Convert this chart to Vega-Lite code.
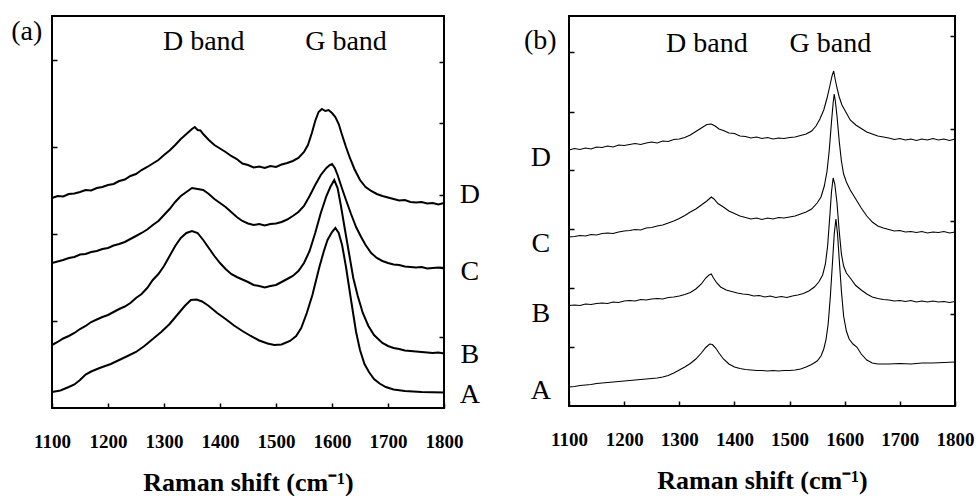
{
"$schema": "https://vega.github.io/schema/vega-lite/v6.json",
"background": "white",
"padding": {"left": 10, "top": 15, "right": 0, "bottom": 0},
"autosize": {"type": "pad"},
"spacing": 125,
"bounds": "flush",
"config": {
  "view": {"stroke": "black", "strokeWidth": 2},
  "font": "Liberation Serif",
  "axis": {"domain": false, "grid": false, "tickColor": "black", "tickWidth": 1.5, "labelColor": "black", "titleColor": "black", "labelFont": "Liberation Serif", "titleFont": "Liberation Serif"}
},
"datasets": {
"a": [
{"s":"A","x":1100,"y":16},{"s":"A","x":1115,"y":17.5},{"s":"A","x":1130,"y":21},{"s":"A","x":1140,"y":23.5},{"s":"A","x":1150,"y":28},{"s":"A","x":1160,"y":33.5},{"s":"A","x":1170,"y":36.5},{"s":"A","x":1185,"y":40},{"s":"A","x":1205,"y":44},{"s":"A","x":1220,"y":48},{"s":"A","x":1235,"y":52},{"s":"A","x":1250,"y":56},{"s":"A","x":1265,"y":62},{"s":"A","x":1280,"y":69},{"s":"A","x":1295,"y":76},{"s":"A","x":1310,"y":84},{"s":"A","x":1325,"y":94},{"s":"A","x":1337,"y":102},{"s":"A","x":1348,"y":108},{"s":"A","x":1358,"y":108.5},{"s":"A","x":1368,"y":106.5},{"s":"A","x":1380,"y":102},{"s":"A","x":1395,"y":95},{"s":"A","x":1410,"y":89},{"s":"A","x":1425,"y":82.5},{"s":"A","x":1440,"y":77},{"s":"A","x":1455,"y":72},{"s":"A","x":1470,"y":67.5},{"s":"A","x":1485,"y":64.5},{"s":"A","x":1497,"y":63},{"s":"A","x":1510,"y":63.5},{"s":"A","x":1525,"y":67},{"s":"A","x":1536,"y":72},{"s":"A","x":1545,"y":80},{"s":"A","x":1555,"y":95},{"s":"A","x":1565,"y":113},{"s":"A","x":1577,"y":140},{"s":"A","x":1585,"y":156},{"s":"A","x":1592,"y":168},{"s":"A","x":1600,"y":176},{"s":"A","x":1606,"y":180},{"s":"A","x":1612,"y":175},{"s":"A","x":1618,"y":163},{"s":"A","x":1625,"y":141},{"s":"A","x":1634,"y":108},{"s":"A","x":1643,"y":76},{"s":"A","x":1650,"y":58},{"s":"A","x":1658,"y":44},{"s":"A","x":1666,"y":36},{"s":"A","x":1675,"y":29},{"s":"A","x":1685,"y":24.5},{"s":"A","x":1696,"y":21},{"s":"A","x":1710,"y":18.5},{"s":"A","x":1730,"y":17},{"s":"A","x":1760,"y":16},{"s":"A","x":1800,"y":15.5},
{"s":"B","x":1100,"y":63},{"s":"B","x":1110,"y":66},{"s":"B","x":1120,"y":69.5},{"s":"B","x":1130,"y":72},{"s":"B","x":1140,"y":75},{"s":"B","x":1150,"y":79},{"s":"B","x":1160,"y":82},{"s":"B","x":1170,"y":86},{"s":"B","x":1180,"y":88.5},{"s":"B","x":1190,"y":91},{"s":"B","x":1200,"y":93},{"s":"B","x":1210,"y":96},{"s":"B","x":1220,"y":99},{"s":"B","x":1230,"y":101.5},{"s":"B","x":1240,"y":105},{"s":"B","x":1250,"y":110},{"s":"B","x":1260,"y":114},{"s":"B","x":1270,"y":120},{"s":"B","x":1280,"y":128},{"s":"B","x":1290,"y":134},{"s":"B","x":1300,"y":142},{"s":"B","x":1310,"y":152},{"s":"B","x":1320,"y":162},{"s":"B","x":1330,"y":170},{"s":"B","x":1340,"y":175},{"s":"B","x":1350,"y":177},{"s":"B","x":1360,"y":175},{"s":"B","x":1370,"y":168},{"s":"B","x":1380,"y":160},{"s":"B","x":1390,"y":152},{"s":"B","x":1400,"y":145},{"s":"B","x":1410,"y":139},{"s":"B","x":1420,"y":134},{"s":"B","x":1430,"y":131},{"s":"B","x":1440,"y":128.5},{"s":"B","x":1450,"y":126},{"s":"B","x":1460,"y":123},{"s":"B","x":1470,"y":122},{"s":"B","x":1480,"y":120.5},{"s":"B","x":1490,"y":122},{"s":"B","x":1500,"y":123},{"s":"B","x":1510,"y":126},{"s":"B","x":1520,"y":129},{"s":"B","x":1530,"y":132},{"s":"B","x":1540,"y":137},{"s":"B","x":1550,"y":145},{"s":"B","x":1560,"y":157},{"s":"B","x":1570,"y":175},{"s":"B","x":1580,"y":195},{"s":"B","x":1590,"y":212},{"s":"B","x":1597,"y":221},{"s":"B","x":1604,"y":228},{"s":"B","x":1610,"y":220},{"s":"B","x":1616,"y":202},{"s":"B","x":1622,"y":182},{"s":"B","x":1630,"y":156},{"s":"B","x":1638,"y":130},{"s":"B","x":1646,"y":112},{"s":"B","x":1655,"y":95},{"s":"B","x":1665,"y":82},{"s":"B","x":1675,"y":73},{"s":"B","x":1690,"y":65},{"s":"B","x":1700,"y":62},{"s":"B","x":1710,"y":60},{"s":"B","x":1720,"y":59},{"s":"B","x":1730,"y":57.5},{"s":"B","x":1740,"y":57},{"s":"B","x":1750,"y":56.5},{"s":"B","x":1760,"y":56},{"s":"B","x":1770,"y":55.5},{"s":"B","x":1780,"y":55},{"s":"B","x":1790,"y":55.5},{"s":"B","x":1800,"y":54.5},
{"s":"C","x":1100,"y":145},{"s":"C","x":1110,"y":146.5},{"s":"C","x":1120,"y":148},{"s":"C","x":1130,"y":150},{"s":"C","x":1140,"y":151},{"s":"C","x":1150,"y":153.5},{"s":"C","x":1160,"y":154},{"s":"C","x":1170,"y":156},{"s":"C","x":1180,"y":157},{"s":"C","x":1190,"y":159},{"s":"C","x":1200,"y":160},{"s":"C","x":1210,"y":162.5},{"s":"C","x":1220,"y":164},{"s":"C","x":1230,"y":166},{"s":"C","x":1240,"y":169},{"s":"C","x":1250,"y":172},{"s":"C","x":1260,"y":175},{"s":"C","x":1270,"y":178.5},{"s":"C","x":1280,"y":183},{"s":"C","x":1290,"y":187},{"s":"C","x":1300,"y":193},{"s":"C","x":1310,"y":199},{"s":"C","x":1320,"y":206},{"s":"C","x":1330,"y":212},{"s":"C","x":1340,"y":216},{"s":"C","x":1350,"y":220},{"s":"C","x":1360,"y":219},{"s":"C","x":1370,"y":218},{"s":"C","x":1380,"y":214},{"s":"C","x":1390,"y":209},{"s":"C","x":1400,"y":205},{"s":"C","x":1410,"y":201},{"s":"C","x":1420,"y":196},{"s":"C","x":1430,"y":191},{"s":"C","x":1440,"y":187},{"s":"C","x":1450,"y":184.5},{"s":"C","x":1460,"y":183},{"s":"C","x":1470,"y":184},{"s":"C","x":1480,"y":182.5},{"s":"C","x":1490,"y":184},{"s":"C","x":1500,"y":184.5},{"s":"C","x":1510,"y":186},{"s":"C","x":1520,"y":188.5},{"s":"C","x":1530,"y":192},{"s":"C","x":1540,"y":196},{"s":"C","x":1550,"y":202},{"s":"C","x":1560,"y":212},{"s":"C","x":1570,"y":223},{"s":"C","x":1580,"y":233},{"s":"C","x":1590,"y":240},{"s":"C","x":1596,"y":243},{"s":"C","x":1600,"y":244},{"s":"C","x":1605,"y":240},{"s":"C","x":1610,"y":233},{"s":"C","x":1617,"y":221},{"s":"C","x":1625,"y":208},{"s":"C","x":1634,"y":194},{"s":"C","x":1643,"y":181},{"s":"C","x":1652,"y":171},{"s":"C","x":1660,"y":163},{"s":"C","x":1670,"y":155},{"s":"C","x":1680,"y":150},{"s":"C","x":1690,"y":147},{"s":"C","x":1700,"y":145},{"s":"C","x":1710,"y":143.5},{"s":"C","x":1720,"y":143},{"s":"C","x":1730,"y":141.5},{"s":"C","x":1740,"y":141},{"s":"C","x":1750,"y":140.5},{"s":"C","x":1760,"y":141},{"s":"C","x":1770,"y":139.5},{"s":"C","x":1780,"y":140},{"s":"C","x":1790,"y":140.5},{"s":"C","x":1800,"y":139.5},
{"s":"D","x":1100,"y":210},{"s":"D","x":1110,"y":212},{"s":"D","x":1120,"y":211.5},{"s":"D","x":1130,"y":214},{"s":"D","x":1140,"y":214.5},{"s":"D","x":1150,"y":216},{"s":"D","x":1160,"y":218},{"s":"D","x":1170,"y":217.5},{"s":"D","x":1180,"y":220},{"s":"D","x":1190,"y":221},{"s":"D","x":1200,"y":223},{"s":"D","x":1210,"y":224},{"s":"D","x":1220,"y":227},{"s":"D","x":1230,"y":228.5},{"s":"D","x":1240,"y":232},{"s":"D","x":1250,"y":234},{"s":"D","x":1260,"y":238},{"s":"D","x":1270,"y":241},{"s":"D","x":1280,"y":244.5},{"s":"D","x":1290,"y":248},{"s":"D","x":1300,"y":253},{"s":"D","x":1310,"y":257.5},{"s":"D","x":1320,"y":263},{"s":"D","x":1330,"y":269},{"s":"D","x":1340,"y":274},{"s":"D","x":1350,"y":279},{"s":"D","x":1355,"y":281},{"s":"D","x":1360,"y":278},{"s":"D","x":1365,"y":277.5},{"s":"D","x":1370,"y":274},{"s":"D","x":1380,"y":268},{"s":"D","x":1390,"y":263},{"s":"D","x":1400,"y":259.5},{"s":"D","x":1410,"y":256},{"s":"D","x":1420,"y":252},{"s":"D","x":1430,"y":249},{"s":"D","x":1440,"y":244.5},{"s":"D","x":1450,"y":243},{"s":"D","x":1460,"y":240.5},{"s":"D","x":1470,"y":241.5},{"s":"D","x":1480,"y":240},{"s":"D","x":1490,"y":242},{"s":"D","x":1500,"y":241},{"s":"D","x":1510,"y":243.5},{"s":"D","x":1520,"y":245},{"s":"D","x":1530,"y":247},{"s":"D","x":1540,"y":250},{"s":"D","x":1550,"y":256},{"s":"D","x":1557,"y":263},{"s":"D","x":1564,"y":275},{"s":"D","x":1570,"y":287},{"s":"D","x":1576,"y":296},{"s":"D","x":1582,"y":299},{"s":"D","x":1588,"y":297},{"s":"D","x":1594,"y":298},{"s":"D","x":1600,"y":295},{"s":"D","x":1606,"y":291},{"s":"D","x":1612,"y":284},{"s":"D","x":1618,"y":273},{"s":"D","x":1625,"y":261},{"s":"D","x":1632,"y":250},{"s":"D","x":1640,"y":239},{"s":"D","x":1650,"y":228},{"s":"D","x":1660,"y":221},{"s":"D","x":1670,"y":217},{"s":"D","x":1680,"y":214},{"s":"D","x":1690,"y":212},{"s":"D","x":1700,"y":210.5},{"s":"D","x":1710,"y":209},{"s":"D","x":1720,"y":207.5},{"s":"D","x":1730,"y":208},{"s":"D","x":1740,"y":206},{"s":"D","x":1750,"y":205.5},{"s":"D","x":1760,"y":206},{"s":"D","x":1770,"y":204.5},{"s":"D","x":1780,"y":205},{"s":"D","x":1790,"y":203.5},{"s":"D","x":1800,"y":205}
],
"b": [
{"s":"A","x":1100,"y":19},{"s":"A","x":1110,"y":19.5},{"s":"A","x":1120,"y":20.5},{"s":"A","x":1130,"y":21},{"s":"A","x":1140,"y":21.5},{"s":"A","x":1150,"y":22.5},{"s":"A","x":1160,"y":23},{"s":"A","x":1170,"y":23.5},{"s":"A","x":1180,"y":24},{"s":"A","x":1190,"y":24.5},{"s":"A","x":1200,"y":25},{"s":"A","x":1210,"y":25.5},{"s":"A","x":1220,"y":26},{"s":"A","x":1230,"y":26.5},{"s":"A","x":1240,"y":27},{"s":"A","x":1250,"y":27.5},{"s":"A","x":1260,"y":28},{"s":"A","x":1270,"y":29},{"s":"A","x":1280,"y":30.5},{"s":"A","x":1290,"y":33},{"s":"A","x":1300,"y":36},{"s":"A","x":1310,"y":39},{"s":"A","x":1320,"y":42.5},{"s":"A","x":1330,"y":47},{"s":"A","x":1340,"y":53},{"s":"A","x":1348,"y":58.5},{"s":"A","x":1355,"y":62},{"s":"A","x":1360,"y":61.5},{"s":"A","x":1366,"y":58},{"s":"A","x":1372,"y":53},{"s":"A","x":1380,"y":47},{"s":"A","x":1390,"y":42},{"s":"A","x":1400,"y":39},{"s":"A","x":1410,"y":37.5},{"s":"A","x":1420,"y":36.5},{"s":"A","x":1430,"y":36},{"s":"A","x":1440,"y":35.5},{"s":"A","x":1450,"y":35.5},{"s":"A","x":1460,"y":35},{"s":"A","x":1470,"y":35.5},{"s":"A","x":1480,"y":35},{"s":"A","x":1490,"y":35.5},{"s":"A","x":1500,"y":35.5},{"s":"A","x":1510,"y":36},{"s":"A","x":1520,"y":37},{"s":"A","x":1530,"y":39},{"s":"A","x":1540,"y":41.5},{"s":"A","x":1550,"y":45},{"s":"A","x":1557,"y":50},{"s":"A","x":1562,"y":57},{"s":"A","x":1566,"y":66},{"s":"A","x":1570,"y":82},{"s":"A","x":1574,"y":110},{"s":"A","x":1578,"y":145},{"s":"A","x":1581,"y":172},{"s":"A","x":1584,"y":187},{"s":"A","x":1587,"y":172},{"s":"A","x":1590,"y":147},{"s":"A","x":1594,"y":115},{"s":"A","x":1598,"y":90},{"s":"A","x":1603,"y":75},{"s":"A","x":1608,"y":67},{"s":"A","x":1615,"y":62},{"s":"A","x":1622,"y":59},{"s":"A","x":1630,"y":52},{"s":"A","x":1640,"y":46},{"s":"A","x":1650,"y":43},{"s":"A","x":1660,"y":42},{"s":"A","x":1680,"y":42},{"s":"A","x":1700,"y":42.5},{"s":"A","x":1720,"y":42},{"s":"A","x":1740,"y":43},{"s":"A","x":1760,"y":43},{"s":"A","x":1780,"y":43.5},{"s":"A","x":1800,"y":44},
{"s":"B","x":1100,"y":100.5},{"s":"B","x":1110,"y":101},{"s":"B","x":1120,"y":100.5},{"s":"B","x":1130,"y":102},{"s":"B","x":1140,"y":101.5},{"s":"B","x":1150,"y":102.5},{"s":"B","x":1160,"y":103},{"s":"B","x":1170,"y":102.5},{"s":"B","x":1180,"y":104},{"s":"B","x":1190,"y":103.5},{"s":"B","x":1200,"y":105},{"s":"B","x":1210,"y":105.5},{"s":"B","x":1220,"y":105},{"s":"B","x":1230,"y":106.5},{"s":"B","x":1240,"y":106},{"s":"B","x":1250,"y":107},{"s":"B","x":1260,"y":107.5},{"s":"B","x":1270,"y":107},{"s":"B","x":1280,"y":108.5},{"s":"B","x":1290,"y":109},{"s":"B","x":1300,"y":110},{"s":"B","x":1310,"y":111.5},{"s":"B","x":1320,"y":113.5},{"s":"B","x":1330,"y":117},{"s":"B","x":1340,"y":122},{"s":"B","x":1348,"y":128},{"s":"B","x":1354,"y":131},{"s":"B","x":1358,"y":132},{"s":"B","x":1362,"y":128},{"s":"B","x":1368,"y":123},{"s":"B","x":1375,"y":119},{"s":"B","x":1385,"y":116},{"s":"B","x":1395,"y":114.5},{"s":"B","x":1405,"y":113},{"s":"B","x":1415,"y":112},{"s":"B","x":1425,"y":111.5},{"s":"B","x":1435,"y":110},{"s":"B","x":1445,"y":110.5},{"s":"B","x":1455,"y":109},{"s":"B","x":1465,"y":110},{"s":"B","x":1475,"y":108.5},{"s":"B","x":1485,"y":109.5},{"s":"B","x":1495,"y":108.5},{"s":"B","x":1505,"y":110},{"s":"B","x":1515,"y":111},{"s":"B","x":1525,"y":112.5},{"s":"B","x":1535,"y":115},{"s":"B","x":1545,"y":119},{"s":"B","x":1553,"y":124},{"s":"B","x":1560,"y":131},{"s":"B","x":1565,"y":142},{"s":"B","x":1569,"y":160},{"s":"B","x":1573,"y":190},{"s":"B","x":1576,"y":214},{"s":"B","x":1579,"y":228},{"s":"B","x":1582,"y":222},{"s":"B","x":1586,"y":203},{"s":"B","x":1590,"y":175},{"s":"B","x":1594,"y":152},{"s":"B","x":1598,"y":140},{"s":"B","x":1603,"y":133},{"s":"B","x":1610,"y":128},{"s":"B","x":1620,"y":120.5},{"s":"B","x":1630,"y":116},{"s":"B","x":1640,"y":112},{"s":"B","x":1650,"y":109},{"s":"B","x":1660,"y":107.5},{"s":"B","x":1670,"y":106.5},{"s":"B","x":1680,"y":106},{"s":"B","x":1690,"y":105},{"s":"B","x":1700,"y":105.5},{"s":"B","x":1710,"y":104.5},{"s":"B","x":1720,"y":105.5},{"s":"B","x":1730,"y":104},{"s":"B","x":1740,"y":105},{"s":"B","x":1750,"y":104},{"s":"B","x":1760,"y":105},{"s":"B","x":1770,"y":104},{"s":"B","x":1780,"y":104.5},{"s":"B","x":1790,"y":103.5},{"s":"B","x":1800,"y":104.5},
{"s":"C","x":1100,"y":169},{"s":"C","x":1110,"y":169.5},{"s":"C","x":1120,"y":170.5},{"s":"C","x":1130,"y":170},{"s":"C","x":1140,"y":171.5},{"s":"C","x":1150,"y":171},{"s":"C","x":1160,"y":172.5},{"s":"C","x":1170,"y":173},{"s":"C","x":1180,"y":172.5},{"s":"C","x":1190,"y":174},{"s":"C","x":1200,"y":175},{"s":"C","x":1210,"y":175.5},{"s":"C","x":1220,"y":176.5},{"s":"C","x":1230,"y":176},{"s":"C","x":1240,"y":178},{"s":"C","x":1250,"y":178.5},{"s":"C","x":1260,"y":180},{"s":"C","x":1270,"y":181},{"s":"C","x":1280,"y":183},{"s":"C","x":1290,"y":185},{"s":"C","x":1300,"y":187.5},{"s":"C","x":1310,"y":190.5},{"s":"C","x":1320,"y":194},{"s":"C","x":1330,"y":197},{"s":"C","x":1340,"y":201},{"s":"C","x":1350,"y":205},{"s":"C","x":1358,"y":209},{"s":"C","x":1363,"y":207},{"s":"C","x":1370,"y":202.5},{"s":"C","x":1380,"y":199},{"s":"C","x":1390,"y":195},{"s":"C","x":1400,"y":192.5},{"s":"C","x":1410,"y":190},{"s":"C","x":1420,"y":188.5},{"s":"C","x":1430,"y":187},{"s":"C","x":1440,"y":188},{"s":"C","x":1450,"y":186.5},{"s":"C","x":1460,"y":188},{"s":"C","x":1470,"y":187},{"s":"C","x":1480,"y":188.5},{"s":"C","x":1490,"y":188},{"s":"C","x":1500,"y":189},{"s":"C","x":1510,"y":190},{"s":"C","x":1520,"y":192},{"s":"C","x":1530,"y":194},{"s":"C","x":1540,"y":197},{"s":"C","x":1550,"y":203},{"s":"C","x":1557,"y":209},{"s":"C","x":1563,"y":220},{"s":"C","x":1568,"y":235},{"s":"C","x":1572,"y":256},{"s":"C","x":1576,"y":284},{"s":"C","x":1579,"y":303},{"s":"C","x":1581,"y":312},{"s":"C","x":1583,"y":305},{"s":"C","x":1586,"y":290},{"s":"C","x":1590,"y":265},{"s":"C","x":1594,"y":245},{"s":"C","x":1598,"y":232},{"s":"C","x":1603,"y":224},{"s":"C","x":1610,"y":216},{"s":"C","x":1620,"y":207},{"s":"C","x":1630,"y":198},{"s":"C","x":1640,"y":190},{"s":"C","x":1650,"y":184},{"s":"C","x":1660,"y":180},{"s":"C","x":1670,"y":178},{"s":"C","x":1680,"y":176.5},{"s":"C","x":1690,"y":175},{"s":"C","x":1700,"y":175.5},{"s":"C","x":1710,"y":174},{"s":"C","x":1720,"y":174.5},{"s":"C","x":1730,"y":173.5},{"s":"C","x":1740,"y":174.5},{"s":"C","x":1750,"y":173},{"s":"C","x":1760,"y":174},{"s":"C","x":1770,"y":173.5},{"s":"C","x":1780,"y":174.5},{"s":"C","x":1790,"y":173},{"s":"C","x":1800,"y":174},
{"s":"D","x":1100,"y":256},{"s":"D","x":1110,"y":257.5},{"s":"D","x":1120,"y":256.5},{"s":"D","x":1130,"y":258},{"s":"D","x":1140,"y":257},{"s":"D","x":1150,"y":259},{"s":"D","x":1160,"y":258.5},{"s":"D","x":1170,"y":260},{"s":"D","x":1180,"y":259},{"s":"D","x":1190,"y":261},{"s":"D","x":1200,"y":260.5},{"s":"D","x":1210,"y":261.5},{"s":"D","x":1220,"y":262.5},{"s":"D","x":1230,"y":261.5},{"s":"D","x":1240,"y":263},{"s":"D","x":1250,"y":264},{"s":"D","x":1260,"y":263},{"s":"D","x":1270,"y":265},{"s":"D","x":1280,"y":264.5},{"s":"D","x":1290,"y":266.5},{"s":"D","x":1300,"y":267},{"s":"D","x":1310,"y":268.5},{"s":"D","x":1320,"y":271},{"s":"D","x":1330,"y":274.5},{"s":"D","x":1340,"y":278},{"s":"D","x":1350,"y":281.5},{"s":"D","x":1358,"y":282},{"s":"D","x":1365,"y":280},{"s":"D","x":1372,"y":277},{"s":"D","x":1380,"y":275.5},{"s":"D","x":1390,"y":273},{"s":"D","x":1400,"y":272.5},{"s":"D","x":1410,"y":270},{"s":"D","x":1420,"y":269.5},{"s":"D","x":1430,"y":268},{"s":"D","x":1440,"y":269},{"s":"D","x":1450,"y":267.5},{"s":"D","x":1460,"y":268.5},{"s":"D","x":1470,"y":267},{"s":"D","x":1480,"y":268},{"s":"D","x":1490,"y":267.5},{"s":"D","x":1500,"y":268.5},{"s":"D","x":1510,"y":269},{"s":"D","x":1520,"y":270.5},{"s":"D","x":1530,"y":272},{"s":"D","x":1540,"y":275},{"s":"D","x":1548,"y":280},{"s":"D","x":1555,"y":287},{"s":"D","x":1562,"y":296},{"s":"D","x":1568,"y":308},{"s":"D","x":1573,"y":320},{"s":"D","x":1577,"y":330},{"s":"D","x":1580,"y":335},{"s":"D","x":1583,"y":326},{"s":"D","x":1586,"y":318},{"s":"D","x":1590,"y":309},{"s":"D","x":1595,"y":301},{"s":"D","x":1600,"y":296},{"s":"D","x":1605,"y":291},{"s":"D","x":1610,"y":286},{"s":"D","x":1620,"y":281},{"s":"D","x":1630,"y":277.5},{"s":"D","x":1640,"y":274},{"s":"D","x":1650,"y":272},{"s":"D","x":1660,"y":270},{"s":"D","x":1670,"y":269},{"s":"D","x":1680,"y":268},{"s":"D","x":1690,"y":266.5},{"s":"D","x":1700,"y":267.5},{"s":"D","x":1710,"y":266},{"s":"D","x":1720,"y":267},{"s":"D","x":1730,"y":265.5},{"s":"D","x":1740,"y":267},{"s":"D","x":1750,"y":266},{"s":"D","x":1760,"y":267.5},{"s":"D","x":1770,"y":266},{"s":"D","x":1780,"y":267},{"s":"D","x":1790,"y":265.5},{"s":"D","x":1800,"y":267}
],
"la": [
{"t":"(a)","x":1055,"y":368},{"t":"D band","x":1371,"y":358},{"t":"G band","x":1625,"y":358},
{"t":"D","x":1846,"y":205},{"t":"C","x":1846,"y":128},{"t":"B","x":1846,"y":45},{"t":"A","x":1846,"y":5}
],
"lb": [
{"t":"(b)","x":1048,"y":357},{"t":"D band","x":1350,"y":354},{"t":"G band","x":1574,"y":354},
{"t":"D","x":1049,"y":240},{"t":"C","x":1049,"y":154},{"t":"B","x":1049,"y":84},{"t":"A","x":1049,"y":7}
]
},
"hconcat": [
{
  "width": 392, "height": 392,
  "layer": [
    {
      "data": {"name": "a"},
      "mark": {"type": "line", "color": "black", "strokeWidth": 2, "interpolate": "linear"},
      "encoding": {
        "x": {"field": "x", "type": "quantitative", "scale": {"domain": [1100, 1800], "nice": false, "zero": false},
              "axis": {"values": [1100,1200,1300,1400,1500,1600,1700,1800], "format": "d", "tickSize": -5, "labelFontSize": 19, "labelFontWeight": "bold", "labelPadding": 29, "labelFlush": false, "labelOverlap": false, "title": "Raman shift (cm⁻¹)", "titleFontSize": 26, "titleFontWeight": "bold", "titlePadding": 18}},
        "y": {"field": "y", "type": "quantitative", "scale": {"domain": [0, 392], "nice": false, "zero": false},
              "axis": {"orient": "left", "values": [87,174,261,348], "labels": false, "tickSize": -5, "title": null}},
        "detail": {"field": "s", "type": "nominal"}
      }
    },
    {
      "data": {"name": "la"},
      "mark": {"type": "text", "fontSize": 28, "font": "Liberation Serif", "color": "black", "align": "center", "baseline": "alphabetic"},
      "encoding": {
        "x": {"field": "x", "type": "quantitative"},
        "y": {"field": "y", "type": "quantitative", "axis": {"orient": "right", "values": [71,141,213,285,346], "labels": false, "tickSize": -5, "title": null}},
        "text": {"field": "t", "type": "nominal"}
      }
    }
  ],
  "resolve": {"axis": {"y": "independent"}}
},
{
  "width": 386, "height": 390,
  "layer": [
    {
      "data": {"name": "b"},
      "mark": {"type": "line", "color": "black", "strokeWidth": 1.1, "interpolate": "linear"},
      "encoding": {
        "x": {"field": "x", "type": "quantitative", "scale": {"domain": [1100, 1800], "nice": false, "zero": false},
              "axis": {"values": [1100,1200,1300,1400,1500,1600,1700,1800], "format": "d", "tickSize": -5, "labelFontSize": 19, "labelFontWeight": "bold", "labelPadding": 29, "labelFlush": false, "labelOverlap": false, "title": "Raman shift (cm⁻¹)", "titleFontSize": 26, "titleFontWeight": "bold", "titlePadding": 18}},
        "y": {"field": "y", "type": "quantitative", "scale": {"domain": [0, 390], "nice": false, "zero": false},
              "axis": {"orient": "left", "values": [59,118,177,236,294,354], "labels": false, "tickSize": -5, "title": null}},
        "detail": {"field": "s", "type": "nominal"}
      }
    },
    {
      "data": {"name": "lb"},
      "mark": {"type": "text", "fontSize": 28, "font": "Liberation Serif", "color": "black", "align": "center", "baseline": "alphabetic"},
      "encoding": {
        "x": {"field": "x", "type": "quantitative"},
        "y": {"field": "y", "type": "quantitative", "axis": {"orient": "right", "values": [92,185,277,370], "labels": false, "tickSize": -5, "title": null}},
        "text": {"field": "t", "type": "nominal"}
      }
    }
  ],
  "resolve": {"axis": {"y": "independent"}}
}
]
}
